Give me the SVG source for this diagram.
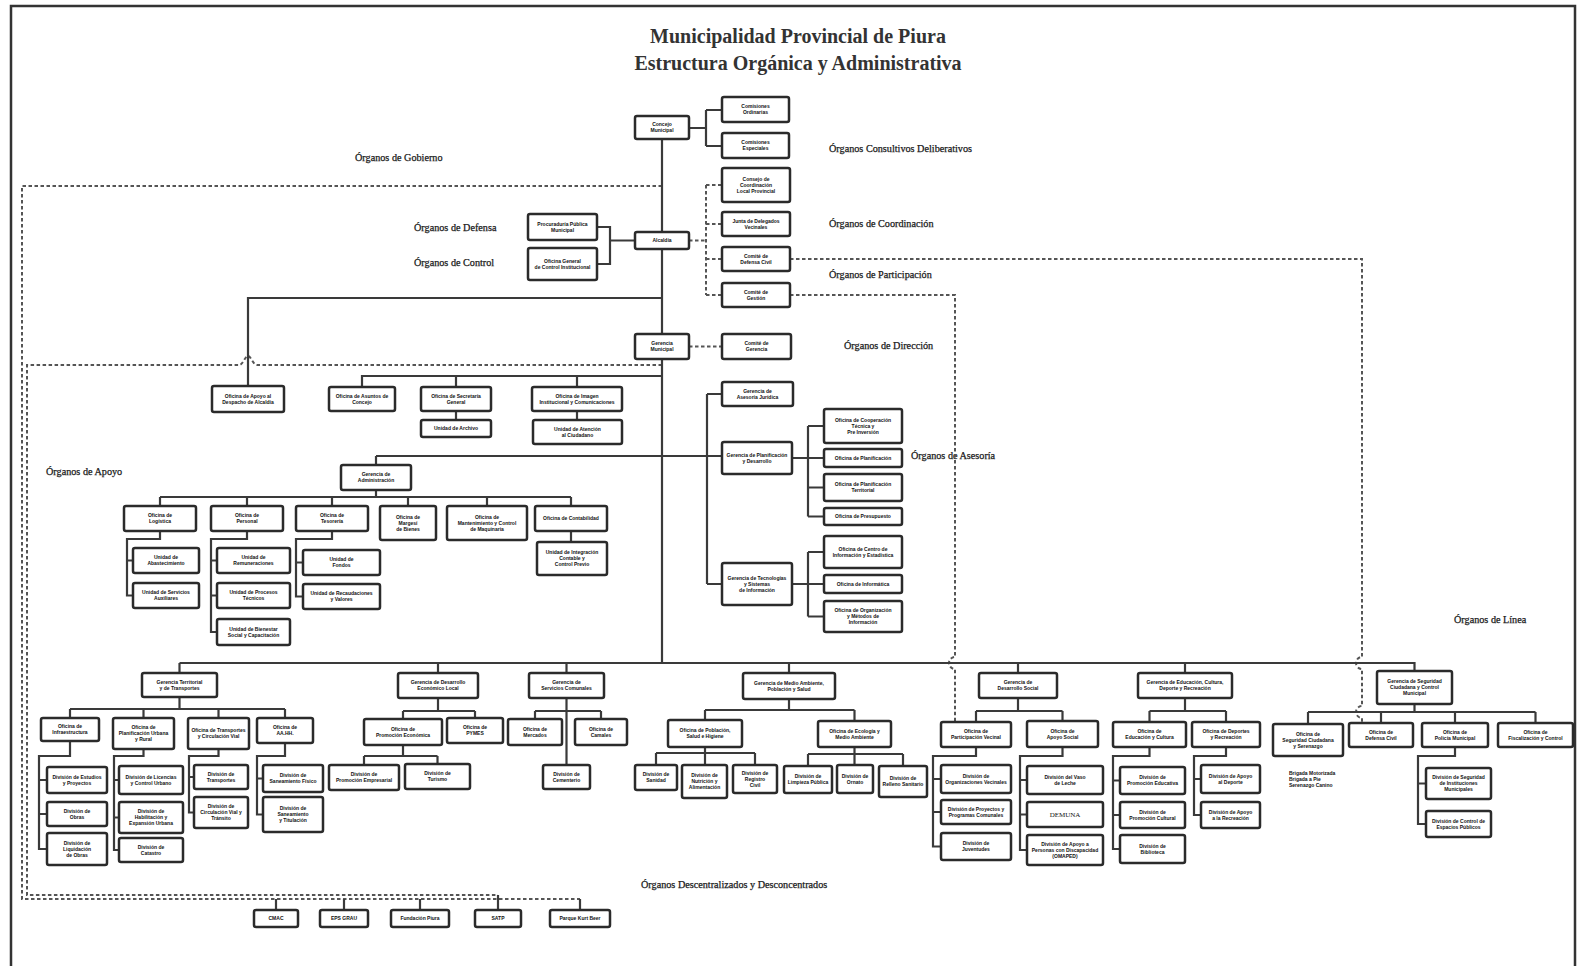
<svg xmlns="http://www.w3.org/2000/svg" width="1581" height="966" viewBox="0 0 1581 966">
<style>
.bx{fill:#fff;stroke:#2b2b2b;stroke-width:2.5}
.t{font-family:"Liberation Sans",Arial,sans-serif;font-size:5px;font-weight:bold;fill:#111;text-anchor:middle}
.lbl{font-family:"Liberation Serif","Times New Roman",serif;font-size:10.2px;fill:#1a1a1a;stroke:#1a1a1a;stroke-width:0.25}
.ttl{font-family:"Liberation Serif","Times New Roman",serif;font-size:20px;font-weight:bold;fill:#333;text-anchor:middle}
.ln{stroke:#3a3a3a;stroke-width:2.2;fill:none}
.ds{stroke:#555;stroke-width:2;stroke-dasharray:3.5 2.5;fill:none}
</style>
<rect x="0" y="0" width="1581" height="966" fill="#fff"/>
<path d="M11,966 V6 H1575 V966" fill="none" stroke="#333" stroke-width="2.5"/>
<text class="ttl" x="798" y="43">Municipalidad Provincial de Piura</text>
<text class="ttl" x="798" y="70">Estructura Orgánica y Administrativa</text>
<g id="labels">
<text class="lbl" x="355" y="161">Órganos de Gobierno</text>
<text class="lbl" x="829" y="152">Órganos Consultivos Deliberativos</text>
<text class="lbl" x="414" y="231">Órganos de Defensa</text>
<text class="lbl" x="414" y="266">Órganos de Control</text>
<text class="lbl" x="829" y="227">Órganos de Coordinación</text>
<text class="lbl" x="829" y="278">Órganos de Participación</text>
<text class="lbl" x="844" y="349">Órganos de Dirección</text>
<text class="lbl" x="911" y="459">Órganos de Asesoría</text>
<text class="lbl" x="46" y="475">Órganos de Apoyo</text>
<text class="lbl" x="1454" y="623">Órganos de Línea</text>
<text class="lbl" x="641" y="888">Órganos Descentralizados y Desconcentrados</text>
</g>
<g id="connectors">
<path class="ds" d="M662,186 H22 V899 H580"/>
<path class="ds" d="M662,365 H257 C253,365 251,356 248,356 C245,356 243,365 239,365 H27 V895 H498"/>
<path class="ds" d="M689,240.5 H706 M706,185 V295 M706,185 H722 M706,224 H722 M706,259 H722 M706,295 H722"/>
<path class="ds" d="M790,259 H1362 V657 A6,6 0 0 0 1362,669 V706 A6,6 0 0 0 1362,718 V723"/>
<path class="ds" d="M790,295 H955 V657 A6,6 0 0 0 955,669 V722"/>
<path class="ds" d="M689,346.5 H722"/>
<path class="ln" d="M662,139 V663"/>
<path class="ln" d="M689,128 H706 M706,110 V146 M706,110 H722 M706,146 H722"/>
<path class="ln" d="M597,227 H610 V264 H597 M610,240.5 H635"/>
<path class="ln" d="M662,298 H248 V386"/>
<path class="ln" d="M662,376 H362 V387 M456,376 V387 M577,376 V387 M456,411 V420 M577,411 V420"/>
<path class="ln" d="M376,456 H722 M707,394 V584 M707,394 H722 M707,584 H722"/>
<path class="ln" d="M792,458 H824 M808,426 V516.5 M808,426 H824 M808,487.5 H824 M808,516.5 H824"/>
<path class="ln" d="M792,584 H824 M808,552 V616.5 M808,552 H824 M808,616.5 H824"/>
<path class="ln" d="M376,456 V465 M376,490 V497 M160,497 H571 M160,497 V506 M247,497 V506 M332,497 V506 M408,497 V506 M487,497 V506 M571,497 V506"/>
<path class="ln" d="M160,531 V539 H127 V595.5 H133 M127,560.5 H133"/>
<path class="ln" d="M247,531 V539 H211 V632 H217 M211,560.5 H217 M211,595.5 H217"/>
<path class="ln" d="M332,531 V539 H296 V596.5 H303 M296,562.5 H303"/>
<path class="ln" d="M571,531 V542"/>
<path class="ln" d="M179.5,663 H1414.5 V671 M179.5,663 V673 M438,663 V673 M566.5,663 V673 M789,663 V673 M1018,663 V673 M1185,663 V673"/>
<path class="ln" d="M179.5,697 V709 M70,709 H285 M70,709 V718 M143.5,709 V718 M218.5,709 V718 M285,709 V718"/>
<path class="ln" d="M70,741 V756 H39 V849 H47 M39,780 H47 M39,814 H47"/>
<path class="ln" d="M143.5,749 V756 H114 V850 H119 M114,780 H119 M114,817.5 H119"/>
<path class="ln" d="M218.5,749 V756 H189 V812.5 H194 M189,777 H194"/>
<path class="ln" d="M285,743 V756 H257 V814.5 H263 M257,778.5 H263"/>
<path class="ln" d="M438,698 V711 M403,711 H475 M403,711 V719 M475,711 V718"/>
<path class="ln" d="M403,745 V756 M364,756 H437.5 M364,756 V765 M437.5,756 V764"/>
<path class="ln" d="M566.5,698 V765 M535,711 H601 M535,711 V719 M601,711 V719"/>
<path class="ln" d="M789,699 V710 M705,710 H854.5 M705,710 V720 M854.5,710 V721"/>
<path class="ln" d="M705,747 V765 M656,753 H755 M656,753 V765 M755,753 V765"/>
<path class="ln" d="M854.5,747 V765 M808,754 H903 M808,754 V766 M903,754 V766"/>
<path class="ln" d="M1018,698 V711 M976,711 H1062.5 M976,711 V722 M1062.5,711 V721"/>
<path class="ln" d="M976,747 V756 H933 V846.5 H941 M933,779 H941 M933,812 H941"/>
<path class="ln" d="M1062.5,747 V756 H1020 V850 H1027 M1020,780 H1027 M1020,814.5 H1027"/>
<path class="ln" d="M1185,698 V711 M1149.5,711 H1226 M1149.5,711 V722 M1226,711 V722"/>
<path class="ln" d="M1149.5,747 V756 H1113 V849 H1120 M1113,780.5 H1120 M1113,815 H1120"/>
<path class="ln" d="M1226,747 V756 H1194 V815 H1201 M1194,779 H1201"/>
<path class="ln" d="M1414.5,704 V712 M1308,712 H1535.5 M1308,712 V724 M1381,712 V723 M1455,712 V723 M1535.5,712 V723"/>
<path class="ln" d="M1455,747 V756 H1418 V824 H1426 M1418,783.5 H1426"/>
<path class="ln" d="M276,899 V910 M344,899 V910 M420,899 V910 M498,895 V910 M580,899 V910"/>
</g>
<g id="concejo"><rect class="bx" x="635" y="116" width="54" height="23" rx="2"/><text class="t" x="662" y="126.3"><tspan x="662">Concejo</tspan><tspan x="662" dy="6">Municipal</tspan></text></g>
<g id="com_ord"><rect class="bx" x="722" y="97" width="67" height="25" rx="2"/><text class="t" x="755.5" y="108.3"><tspan x="755.5">Comisiones</tspan><tspan x="755.5" dy="6">Ordinarias</tspan></text></g>
<g id="com_esp"><rect class="bx" x="722" y="133" width="67" height="25" rx="2"/><text class="t" x="755.5" y="144.3"><tspan x="755.5">Comisiones</tspan><tspan x="755.5" dy="6">Especiales</tspan></text></g>
<g id="consejo"><rect class="bx" x="722" y="168" width="68" height="34" rx="2"/><text class="t" x="756" y="180.8"><tspan x="756">Consejo de</tspan><tspan x="756" dy="6">Coordinación</tspan><tspan x="756" dy="6">Local Provincial</tspan></text></g>
<g id="junta"><rect class="bx" x="722" y="212" width="68" height="24" rx="2"/><text class="t" x="756" y="222.8"><tspan x="756">Junta de Delegados</tspan><tspan x="756" dy="6">Vecinales</tspan></text></g>
<g id="comite_dc"><rect class="bx" x="722" y="247" width="68" height="24" rx="2"/><text class="t" x="756" y="257.8"><tspan x="756">Comité de</tspan><tspan x="756" dy="6">Defensa Civil</tspan></text></g>
<g id="comite_gest"><rect class="bx" x="722" y="283" width="68" height="24" rx="2"/><text class="t" x="756" y="293.8"><tspan x="756">Comité de</tspan><tspan x="756" dy="6">Gestión</tspan></text></g>
<g id="alcaldia"><rect class="bx" x="635" y="232" width="54" height="17" rx="2"/><text class="t" x="662" y="242.3">Alcaldía</text></g>
<g id="procuraduria"><rect class="bx" x="528" y="214" width="69" height="26" rx="2"/><text class="t" x="562.5" y="225.8"><tspan x="562.5">Procuraduría Pública</tspan><tspan x="562.5" dy="6">Municipal</tspan></text></g>
<g id="control"><rect class="bx" x="528" y="248" width="69" height="32" rx="2"/><text class="t" x="562.5" y="262.8"><tspan x="562.5">Oficina General</tspan><tspan x="562.5" dy="6">de Control Institucional</tspan></text></g>
<g id="gerencia_mun"><rect class="bx" x="635" y="334" width="54" height="25" rx="2"/><text class="t" x="662" y="345.3"><tspan x="662">Gerencia</tspan><tspan x="662" dy="6">Municipal</tspan></text></g>
<g id="comite_ger"><rect class="bx" x="722" y="334" width="69" height="25" rx="2"/><text class="t" x="756.5" y="345.3"><tspan x="756.5">Comité de</tspan><tspan x="756.5" dy="6">Gerencia</tspan></text></g>
<g id="apoyo_desp"><rect class="bx" x="212" y="386" width="72" height="26" rx="2"/><text class="t" x="248" y="397.8"><tspan x="248">Oficina de Apoyo al</tspan><tspan x="248" dy="6">Despacho de Alcaldía</tspan></text></g>
<g id="asuntos"><rect class="bx" x="329" y="387" width="66" height="24" rx="2"/><text class="t" x="362" y="397.8"><tspan x="362">Oficina de Asuntos de</tspan><tspan x="362" dy="6">Concejo</tspan></text></g>
<g id="secretaria"><rect class="bx" x="421" y="387" width="70" height="24" rx="2"/><text class="t" x="456" y="397.8"><tspan x="456">Oficina de Secretaría</tspan><tspan x="456" dy="6">General</tspan></text></g>
<g id="archivo"><rect class="bx" x="421" y="420" width="70" height="17" rx="2"/><text class="t" x="456" y="430.3">Unidad de Archivo</text></g>
<g id="imagen"><rect class="bx" x="532" y="387" width="90" height="24" rx="2"/><text class="t" x="577" y="397.8"><tspan x="577">Oficina de Imagen</tspan><tspan x="577" dy="6">Institucional y Comunicaciones</tspan></text></g>
<g id="atencion"><rect class="bx" x="533" y="420" width="89" height="24" rx="2"/><text class="t" x="577.5" y="430.8"><tspan x="577.5">Unidad de Atención</tspan><tspan x="577.5" dy="6">al Ciudadano</tspan></text></g>
<g id="asesoria"><rect class="bx" x="722" y="382" width="71" height="24" rx="2"/><text class="t" x="757.5" y="392.8"><tspan x="757.5">Gerencia de</tspan><tspan x="757.5" dy="6">Asesoría Jurídica</tspan></text></g>
<g id="planif"><rect class="bx" x="722" y="442" width="70" height="32" rx="2"/><text class="t" x="757" y="456.8"><tspan x="757">Gerencia de Planificación</tspan><tspan x="757" dy="6">y Desarrollo</tspan></text></g>
<g id="tecno"><rect class="bx" x="722" y="563" width="70" height="42" rx="2"/><text class="t" x="757" y="579.8"><tspan x="757">Gerencia de Tecnologías</tspan><tspan x="757" dy="6">y Sistemas</tspan><tspan x="757" dy="6">de Información</tspan></text></g>
<g id="coop"><rect class="bx" x="824" y="409" width="78" height="34" rx="2"/><text class="t" x="863" y="421.8"><tspan x="863">Oficina de Cooperación</tspan><tspan x="863" dy="6">Técnica y</tspan><tspan x="863" dy="6">Pre Inversión</tspan></text></g>
<g id="ofplanif"><rect class="bx" x="824" y="449" width="78" height="18" rx="2"/><text class="t" x="863" y="459.8">Oficina de Planificación</text></g>
<g id="planterr"><rect class="bx" x="824" y="474" width="78" height="27" rx="2"/><text class="t" x="863" y="486.3"><tspan x="863">Oficina de Planificación</tspan><tspan x="863" dy="6">Territorial</tspan></text></g>
<g id="presup"><rect class="bx" x="824" y="508" width="78" height="17" rx="2"/><text class="t" x="863" y="518.3">Oficina de Presupuesto</text></g>
<g id="cie"><rect class="bx" x="824" y="536" width="78" height="32" rx="2"/><text class="t" x="863" y="550.8"><tspan x="863">Oficina de Centro de</tspan><tspan x="863" dy="6">Información y Estadística</tspan></text></g>
<g id="informatica"><rect class="bx" x="824" y="575" width="78" height="18" rx="2"/><text class="t" x="863" y="585.8">Oficina de Informática</text></g>
<g id="oym"><rect class="bx" x="824" y="601" width="78" height="31" rx="2"/><text class="t" x="863" y="612.3"><tspan x="863">Oficina de Organización</tspan><tspan x="863" dy="6">y Métodos de</tspan><tspan x="863" dy="6">Información</tspan></text></g>
<g id="gadm"><rect class="bx" x="341" y="465" width="70" height="25" rx="2"/><text class="t" x="376" y="476.3"><tspan x="376">Gerencia de</tspan><tspan x="376" dy="6">Administración</tspan></text></g>
<g id="logistica"><rect class="bx" x="124" y="506" width="72" height="25" rx="2"/><text class="t" x="160" y="517.3"><tspan x="160">Oficina de</tspan><tspan x="160" dy="6">Logística</tspan></text></g>
<g id="personal"><rect class="bx" x="211" y="506" width="72" height="25" rx="2"/><text class="t" x="247" y="517.3"><tspan x="247">Oficina de</tspan><tspan x="247" dy="6">Personal</tspan></text></g>
<g id="tesoreria"><rect class="bx" x="296" y="506" width="72" height="25" rx="2"/><text class="t" x="332" y="517.3"><tspan x="332">Oficina de</tspan><tspan x="332" dy="6">Tesorería</tspan></text></g>
<g id="margesi"><rect class="bx" x="380" y="506" width="56" height="34" rx="2"/><text class="t" x="408" y="518.8"><tspan x="408">Oficina de</tspan><tspan x="408" dy="6">Margesí</tspan><tspan x="408" dy="6">de Bienes</tspan></text></g>
<g id="mantenim"><rect class="bx" x="447" y="506" width="80" height="34" rx="2"/><text class="t" x="487" y="518.8"><tspan x="487">Oficina de</tspan><tspan x="487" dy="6">Mantenimiento y Control</tspan><tspan x="487" dy="6">de Maquinaria</tspan></text></g>
<g id="contab"><rect class="bx" x="535" y="506" width="72" height="25" rx="2"/><text class="t" x="571" y="520.3">Oficina de Contabilidad</text></g>
<g id="abast"><rect class="bx" x="133" y="548" width="66" height="25" rx="2"/><text class="t" x="166" y="559.3"><tspan x="166">Unidad de</tspan><tspan x="166" dy="6">Abastecimiento</tspan></text></g>
<g id="servaux"><rect class="bx" x="133" y="583" width="66" height="25" rx="2"/><text class="t" x="166" y="594.3"><tspan x="166">Unidad de Servicios</tspan><tspan x="166" dy="6">Auxiliares</tspan></text></g>
<g id="remun"><rect class="bx" x="217" y="548" width="73" height="25" rx="2"/><text class="t" x="253.5" y="559.3"><tspan x="253.5">Unidad de</tspan><tspan x="253.5" dy="6">Remuneraciones</tspan></text></g>
<g id="proctec"><rect class="bx" x="217" y="583" width="73" height="25" rx="2"/><text class="t" x="253.5" y="594.3"><tspan x="253.5">Unidad de Procesos</tspan><tspan x="253.5" dy="6">Técnicos</tspan></text></g>
<g id="bienestar"><rect class="bx" x="217" y="619" width="73" height="26" rx="2"/><text class="t" x="253.5" y="630.8"><tspan x="253.5">Unidad de Bienestar</tspan><tspan x="253.5" dy="6">Social y Capacitación</tspan></text></g>
<g id="fondos"><rect class="bx" x="303" y="550" width="77" height="25" rx="2"/><text class="t" x="341.5" y="561.3"><tspan x="341.5">Unidad de</tspan><tspan x="341.5" dy="6">Fondos</tspan></text></g>
<g id="recaud"><rect class="bx" x="303" y="584" width="77" height="25" rx="2"/><text class="t" x="341.5" y="595.3"><tspan x="341.5">Unidad de Recaudaciones</tspan><tspan x="341.5" dy="6">y Valores</tspan></text></g>
<g id="integ"><rect class="bx" x="537" y="542" width="70" height="33" rx="2"/><text class="t" x="572" y="554.3"><tspan x="572">Unidad de Integración</tspan><tspan x="572" dy="6">Contable y</tspan><tspan x="572" dy="6">Control Previo</tspan></text></g>
<g id="gterr"><rect class="bx" x="142" y="673" width="75" height="24" rx="2"/><text class="t" x="179.5" y="683.8"><tspan x="179.5">Gerencia Territorial</tspan><tspan x="179.5" dy="6">y de Transportes</tspan></text></g>
<g id="infra"><rect class="bx" x="41" y="718" width="58" height="23" rx="2"/><text class="t" x="70" y="728.3"><tspan x="70">Oficina de</tspan><tspan x="70" dy="6">Infraestructura</tspan></text></g>
<g id="planurb"><rect class="bx" x="113" y="718" width="61" height="31" rx="2"/><text class="t" x="143.5" y="729.3"><tspan x="143.5">Oficina de</tspan><tspan x="143.5" dy="6">Planificación Urbana</tspan><tspan x="143.5" dy="6">y Rural</tspan></text></g>
<g id="transp"><rect class="bx" x="188" y="718" width="61" height="31" rx="2"/><text class="t" x="218.5" y="732.3"><tspan x="218.5">Oficina de Transportes</tspan><tspan x="218.5" dy="6">y Circulación Vial</tspan></text></g>
<g id="aahh"><rect class="bx" x="257" y="718" width="56" height="25" rx="2"/><text class="t" x="285" y="729.3"><tspan x="285">Oficina de</tspan><tspan x="285" dy="6">AA.HH.</tspan></text></g>
<g id="estudios"><rect class="bx" x="47" y="767" width="60" height="26" rx="2"/><text class="t" x="77" y="778.8"><tspan x="77">División de Estudios</tspan><tspan x="77" dy="6">y Proyectos</tspan></text></g>
<g id="obras"><rect class="bx" x="47" y="802" width="60" height="24" rx="2"/><text class="t" x="77" y="812.8"><tspan x="77">División de</tspan><tspan x="77" dy="6">Obras</tspan></text></g>
<g id="liquid"><rect class="bx" x="47" y="833" width="60" height="32" rx="2"/><text class="t" x="77" y="844.8"><tspan x="77">División de</tspan><tspan x="77" dy="6">Liquidación</tspan><tspan x="77" dy="6">de Obras</tspan></text></g>
<g id="licencias"><rect class="bx" x="119" y="766" width="64" height="28" rx="2"/><text class="t" x="151" y="778.8"><tspan x="151">División de Licencias</tspan><tspan x="151" dy="6">y Control Urbano</tspan></text></g>
<g id="habilit"><rect class="bx" x="119" y="802" width="64" height="31" rx="2"/><text class="t" x="151" y="813.3"><tspan x="151">División de</tspan><tspan x="151" dy="6">Habilitación y</tspan><tspan x="151" dy="6">Expansión Urbana</tspan></text></g>
<g id="catastro"><rect class="bx" x="119" y="838" width="64" height="24" rx="2"/><text class="t" x="151" y="848.8"><tspan x="151">División de</tspan><tspan x="151" dy="6">Catastro</tspan></text></g>
<g id="divtransp"><rect class="bx" x="194" y="765" width="54" height="24" rx="2"/><text class="t" x="221" y="775.8"><tspan x="221">División de</tspan><tspan x="221" dy="6">Transportes</tspan></text></g>
<g id="circ"><rect class="bx" x="194" y="797" width="54" height="31" rx="2"/><text class="t" x="221" y="808.3"><tspan x="221">División de</tspan><tspan x="221" dy="6">Circulación Vial y</tspan><tspan x="221" dy="6">Tránsito</tspan></text></g>
<g id="saneam"><rect class="bx" x="263" y="765" width="60" height="27" rx="2"/><text class="t" x="293" y="777.3"><tspan x="293">División de</tspan><tspan x="293" dy="6">Saneamiento Físico</tspan></text></g>
<g id="titul"><rect class="bx" x="263" y="797" width="60" height="35" rx="2"/><text class="t" x="293" y="810.3"><tspan x="293">División de</tspan><tspan x="293" dy="6">Saneamiento</tspan><tspan x="293" dy="6">y Titulación</tspan></text></g>
<g id="gdel"><rect class="bx" x="398" y="673" width="80" height="25" rx="2"/><text class="t" x="438" y="684.3"><tspan x="438">Gerencia de Desarrollo</tspan><tspan x="438" dy="6">Económico Local</tspan></text></g>
<g id="promeco"><rect class="bx" x="364" y="719" width="78" height="26" rx="2"/><text class="t" x="403" y="730.8"><tspan x="403">Oficina de</tspan><tspan x="403" dy="6">Promoción Económica</tspan></text></g>
<g id="pymes"><rect class="bx" x="447" y="718" width="56" height="25" rx="2"/><text class="t" x="475" y="729.3"><tspan x="475">Oficina de</tspan><tspan x="475" dy="6">PYMES</tspan></text></g>
<g id="promemp"><rect class="bx" x="329" y="765" width="70" height="25" rx="2"/><text class="t" x="364" y="776.3"><tspan x="364">División de</tspan><tspan x="364" dy="6">Promoción Empresarial</tspan></text></g>
<g id="turismo"><rect class="bx" x="405" y="764" width="65" height="25" rx="2"/><text class="t" x="437.5" y="775.3"><tspan x="437.5">División de</tspan><tspan x="437.5" dy="6">Turismo</tspan></text></g>
<g id="gserv"><rect class="bx" x="529" y="673" width="75" height="25" rx="2"/><text class="t" x="566.5" y="684.3"><tspan x="566.5">Gerencia de</tspan><tspan x="566.5" dy="6">Servicios Comunales</tspan></text></g>
<g id="mercados"><rect class="bx" x="508" y="719" width="54" height="26" rx="2"/><text class="t" x="535" y="730.8"><tspan x="535">Oficina de</tspan><tspan x="535" dy="6">Mercados</tspan></text></g>
<g id="camales"><rect class="bx" x="575" y="719" width="52" height="26" rx="2"/><text class="t" x="601" y="730.8"><tspan x="601">Oficina de</tspan><tspan x="601" dy="6">Camales</tspan></text></g>
<g id="cementerio"><rect class="bx" x="543" y="765" width="47" height="24" rx="2"/><text class="t" x="566.5" y="775.8"><tspan x="566.5">División de</tspan><tspan x="566.5" dy="6">Cementerio</tspan></text></g>
<g id="gmedio"><rect class="bx" x="743" y="673" width="92" height="26" rx="2"/><text class="t" x="789" y="684.8"><tspan x="789">Gerencia de Medio Ambiente,</tspan><tspan x="789" dy="6">Población y Salud</tspan></text></g>
<g id="poblacion"><rect class="bx" x="668" y="720" width="74" height="27" rx="2"/><text class="t" x="705" y="732.3"><tspan x="705">Oficina de Población,</tspan><tspan x="705" dy="6">Salud e Higiene</tspan></text></g>
<g id="ecologia"><rect class="bx" x="818" y="721" width="73" height="26" rx="2"/><text class="t" x="854.5" y="732.8"><tspan x="854.5">Oficina de Ecología y</tspan><tspan x="854.5" dy="6">Medio Ambiente</tspan></text></g>
<g id="sanidad"><rect class="bx" x="635" y="765" width="42" height="25" rx="2"/><text class="t" x="656" y="776.3"><tspan x="656">División de</tspan><tspan x="656" dy="6">Sanidad</tspan></text></g>
<g id="nutric"><rect class="bx" x="682" y="765" width="45" height="33" rx="2"/><text class="t" x="704.5" y="777.3"><tspan x="704.5">División de</tspan><tspan x="704.5" dy="6">Nutrición y</tspan><tspan x="704.5" dy="6">Alimentación</tspan></text></g>
<g id="regciv"><rect class="bx" x="733" y="765" width="44" height="28" rx="2"/><text class="t" x="755" y="774.8"><tspan x="755">División de</tspan><tspan x="755" dy="6">Registro</tspan><tspan x="755" dy="6">Civil</tspan></text></g>
<g id="limpieza"><rect class="bx" x="784" y="766" width="48" height="27" rx="2"/><text class="t" x="808" y="778.3"><tspan x="808">División de</tspan><tspan x="808" dy="6">Limpieza Pública</tspan></text></g>
<g id="ornato"><rect class="bx" x="837" y="765" width="36" height="28" rx="2"/><text class="t" x="855" y="777.8"><tspan x="855">División de</tspan><tspan x="855" dy="6">Ornato</tspan></text></g>
<g id="relleno"><rect class="bx" x="879" y="766" width="48" height="31" rx="2"/><text class="t" x="903" y="780.3"><tspan x="903">División de</tspan><tspan x="903" dy="6">Relleno Sanitario</tspan></text></g>
<g id="gdsocial"><rect class="bx" x="979" y="673" width="78" height="25" rx="2"/><text class="t" x="1018" y="684.3"><tspan x="1018">Gerencia de</tspan><tspan x="1018" dy="6">Desarrollo Social</tspan></text></g>
<g id="partvec"><rect class="bx" x="941" y="722" width="70" height="25" rx="2"/><text class="t" x="976" y="733.3"><tspan x="976">Oficina de</tspan><tspan x="976" dy="6">Participación Vecinal</tspan></text></g>
<g id="aposoc"><rect class="bx" x="1027" y="721" width="71" height="26" rx="2"/><text class="t" x="1062.5" y="732.8"><tspan x="1062.5">Oficina de</tspan><tspan x="1062.5" dy="6">Apoyo Social</tspan></text></g>
<g id="orgvec"><rect class="bx" x="941" y="765" width="70" height="28" rx="2"/><text class="t" x="976" y="777.8"><tspan x="976">División de</tspan><tspan x="976" dy="6">Organizaciones Vecinales</tspan></text></g>
<g id="proyprog"><rect class="bx" x="941" y="800" width="70" height="24" rx="2"/><text class="t" x="976" y="810.8"><tspan x="976">División de Proyectos y</tspan><tspan x="976" dy="6">Programas Comunales</tspan></text></g>
<g id="juvent"><rect class="bx" x="941" y="833" width="70" height="27" rx="2"/><text class="t" x="976" y="845.3"><tspan x="976">División de</tspan><tspan x="976" dy="6">Juventudes</tspan></text></g>
<g id="vaso"><rect class="bx" x="1027" y="766" width="76" height="28" rx="2"/><text class="t" x="1065" y="778.8"><tspan x="1065">División del Vaso</tspan><tspan x="1065" dy="6">de Leche</tspan></text></g>
<g id="demuna"><rect class="bx" x="1027" y="802" width="76" height="25" rx="2"/><text class="t" x="1065" y="817" style="font-size:7px;font-weight:normal;font-family:'Liberation Serif',serif">DEMUNA</text></g>
<g id="omaped"><rect class="bx" x="1027" y="835" width="76" height="30" rx="2"/><text class="t" x="1065" y="845.8"><tspan x="1065">División de Apoyo a</tspan><tspan x="1065" dy="6">Personas con Discapacidad</tspan><tspan x="1065" dy="6">(OMAPED)</tspan></text></g>
<g id="geduc"><rect class="bx" x="1138" y="673" width="94" height="25" rx="2"/><text class="t" x="1185" y="684.3"><tspan x="1185">Gerencia de Educación, Cultura,</tspan><tspan x="1185" dy="6">Deporte y Recreación</tspan></text></g>
<g id="educ"><rect class="bx" x="1113" y="722" width="73" height="25" rx="2"/><text class="t" x="1149.5" y="733.3"><tspan x="1149.5">Oficina de</tspan><tspan x="1149.5" dy="6">Educación y Cultura</tspan></text></g>
<g id="deportes"><rect class="bx" x="1192" y="722" width="68" height="25" rx="2"/><text class="t" x="1226" y="733.3"><tspan x="1226">Oficina de Deportes</tspan><tspan x="1226" dy="6">y Recreación</tspan></text></g>
<g id="promedu"><rect class="bx" x="1120" y="767" width="65" height="27" rx="2"/><text class="t" x="1152.5" y="779.3"><tspan x="1152.5">División de</tspan><tspan x="1152.5" dy="6">Promoción Educativa</tspan></text></g>
<g id="promcult"><rect class="bx" x="1120" y="802" width="65" height="26" rx="2"/><text class="t" x="1152.5" y="813.8"><tspan x="1152.5">División de</tspan><tspan x="1152.5" dy="6">Promoción Cultural</tspan></text></g>
<g id="biblio"><rect class="bx" x="1120" y="835" width="65" height="28" rx="2"/><text class="t" x="1152.5" y="847.8"><tspan x="1152.5">División de</tspan><tspan x="1152.5" dy="6">Biblioteca</tspan></text></g>
<g id="apodep"><rect class="bx" x="1201" y="765" width="59" height="28" rx="2"/><text class="t" x="1230.5" y="777.8"><tspan x="1230.5">División de Apoyo</tspan><tspan x="1230.5" dy="6">al Deporte</tspan></text></g>
<g id="aporec"><rect class="bx" x="1201" y="802" width="59" height="26" rx="2"/><text class="t" x="1230.5" y="813.8"><tspan x="1230.5">División de Apoyo</tspan><tspan x="1230.5" dy="6">a la Recreación</tspan></text></g>
<g id="gseg"><rect class="bx" x="1377" y="671" width="75" height="33" rx="2"/><text class="t" x="1414.5" y="683.3"><tspan x="1414.5">Gerencia de Seguridad</tspan><tspan x="1414.5" dy="6">Ciudadana y Control</tspan><tspan x="1414.5" dy="6">Municipal</tspan></text></g>
<g id="segciud"><rect class="bx" x="1273" y="724" width="70" height="32" rx="2"/><text class="t" x="1308" y="735.8"><tspan x="1308">Oficina de</tspan><tspan x="1308" dy="6">Seguridad Ciudadana</tspan><tspan x="1308" dy="6">y Serenazgo</tspan></text></g>
<g id="brigadas"><text class="t" x="1289" y="775" style="text-anchor:start"><tspan x="1289">Brigada Motorizada</tspan><tspan x="1289" dy="6">Brigada a Pie</tspan><tspan x="1289" dy="6">Serenazgo Canino</tspan></text></g>
<g id="defciv"><rect class="bx" x="1349" y="723" width="64" height="24" rx="2"/><text class="t" x="1381" y="733.8"><tspan x="1381">Oficina de</tspan><tspan x="1381" dy="6">Defensa Civil</tspan></text></g>
<g id="policia"><rect class="bx" x="1422" y="723" width="66" height="24" rx="2"/><text class="t" x="1455" y="733.8"><tspan x="1455">Oficina de</tspan><tspan x="1455" dy="6">Policía Municipal</tspan></text></g>
<g id="fiscal"><rect class="bx" x="1498" y="723" width="75" height="24" rx="2"/><text class="t" x="1535.5" y="733.8"><tspan x="1535.5">Oficina de</tspan><tspan x="1535.5" dy="6">Fiscalización y Control</tspan></text></g>
<g id="divseginst"><rect class="bx" x="1426" y="768" width="65" height="31" rx="2"/><text class="t" x="1458.5" y="779.3"><tspan x="1458.5">División de Seguridad</tspan><tspan x="1458.5" dy="6">de Instituciones</tspan><tspan x="1458.5" dy="6">Municipales</tspan></text></g>
<g id="espacios"><rect class="bx" x="1426" y="811" width="65" height="26" rx="2"/><text class="t" x="1458.5" y="822.8"><tspan x="1458.5">División de Control de</tspan><tspan x="1458.5" dy="6">Espacios Públicos</tspan></text></g>
<g id="cmac"><rect class="bx" x="254" y="910" width="44" height="17" rx="2"/><text class="t" x="276" y="920.3">CMAC</text></g>
<g id="epsgrau"><rect class="bx" x="320" y="910" width="48" height="17" rx="2"/><text class="t" x="344" y="920.3">EPS GRAU</text></g>
<g id="fundacion"><rect class="bx" x="391" y="910" width="58" height="17" rx="2"/><text class="t" x="420" y="920.3">Fundación Piura</text></g>
<g id="satp"><rect class="bx" x="475" y="910" width="46" height="17" rx="2"/><text class="t" x="498" y="920.3">SATP</text></g>
<g id="parque"><rect class="bx" x="550" y="910" width="60" height="17" rx="2"/><text class="t" x="580" y="920.3">Parque Kurt Beer</text></g>
</svg>
